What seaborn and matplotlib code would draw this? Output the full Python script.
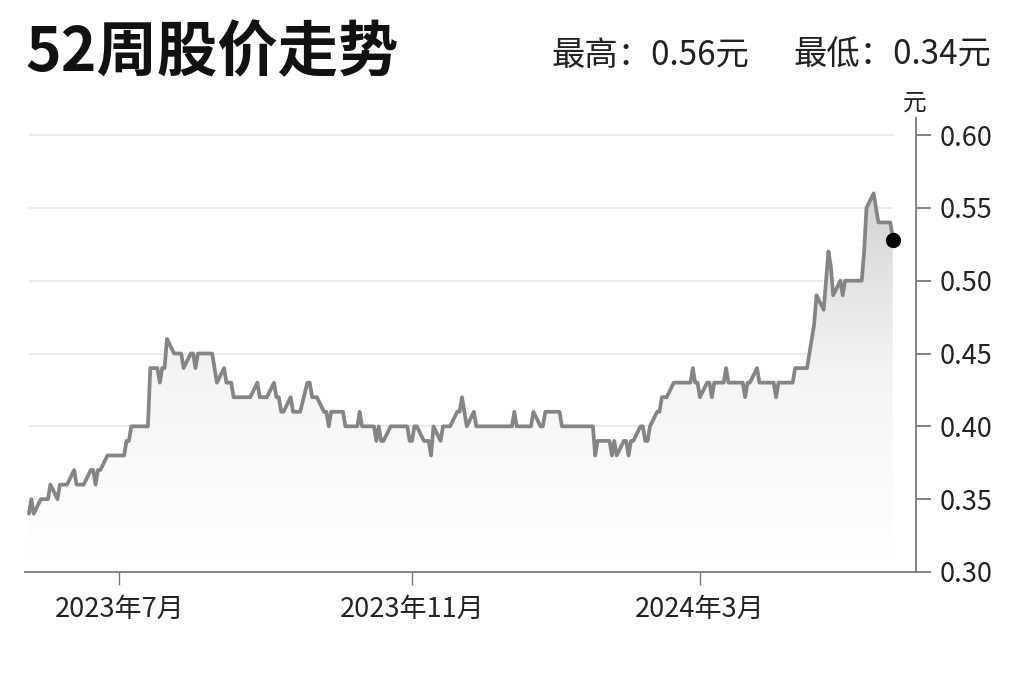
import numpy as np
import pandas as pd
import matplotlib
matplotlib.use("Agg")
import matplotlib.pyplot as plt
import matplotlib.dates as mdates
from matplotlib.colors import LinearSegmentedColormap
import seaborn as sns

# 每日收盘价（元），最后一个交易日为 2024-05-21
close = [
    0.34, 0.35, 0.34, 0.35, 0.35, 0.35, 0.35, 0.36, 0.35, 0.36,
    0.36, 0.36, 0.36, 0.37, 0.36, 0.36, 0.36, 0.36, 0.37, 0.37,
    0.36, 0.37, 0.37, 0.38, 0.38, 0.38, 0.38, 0.38, 0.38, 0.39,
    0.39, 0.40, 0.40, 0.40, 0.40, 0.40, 0.40, 0.44, 0.44, 0.43,
    0.44, 0.44, 0.46, 0.45, 0.45, 0.45, 0.45, 0.44, 0.45, 0.45,
    0.44, 0.45, 0.45, 0.45, 0.45, 0.45, 0.44, 0.43, 0.44, 0.43,
    0.43, 0.43, 0.42, 0.42, 0.42, 0.42, 0.42, 0.42, 0.43, 0.42,
    0.42, 0.42, 0.42, 0.43, 0.42, 0.42, 0.41, 0.41, 0.42, 0.41,
    0.41, 0.41, 0.41, 0.43, 0.43, 0.42, 0.42, 0.42, 0.41, 0.41,
    0.40, 0.41, 0.41, 0.41, 0.41, 0.40, 0.40, 0.40, 0.40, 0.41,
    0.40, 0.40, 0.40, 0.40, 0.39, 0.40, 0.39, 0.39, 0.40, 0.40,
    0.40, 0.40, 0.40, 0.40, 0.39, 0.39, 0.40, 0.40, 0.39, 0.39,
    0.39, 0.38, 0.40, 0.39, 0.40, 0.40, 0.40, 0.40, 0.41, 0.41,
    0.42, 0.41, 0.40, 0.41, 0.40, 0.40, 0.40, 0.40, 0.40, 0.40,
    0.40, 0.40, 0.40, 0.40, 0.40, 0.40, 0.41, 0.40, 0.40, 0.40,
    0.40, 0.40, 0.41, 0.40, 0.40, 0.41, 0.41, 0.41, 0.41, 0.41,
    0.40, 0.40, 0.40, 0.40, 0.40, 0.40, 0.40, 0.40, 0.40, 0.40,
    0.38, 0.39, 0.39, 0.39, 0.39, 0.38, 0.39, 0.38, 0.39, 0.39,
    0.38, 0.39, 0.39, 0.40, 0.40, 0.39, 0.39, 0.40, 0.41, 0.41,
    0.42, 0.42, 0.42, 0.43, 0.43, 0.43, 0.43, 0.43, 0.43, 0.44,
    0.43, 0.43, 0.42, 0.43, 0.43, 0.42, 0.43, 0.43, 0.43, 0.44,
    0.43, 0.43, 0.43, 0.43, 0.43, 0.42, 0.43, 0.43, 0.44, 0.43,
    0.43, 0.43, 0.43, 0.43, 0.42, 0.43, 0.43, 0.43, 0.43, 0.43,
    0.44, 0.44, 0.44, 0.44, 0.45, 0.46, 0.47, 0.49, 0.48, 0.50,
    0.52, 0.51, 0.49, 0.50, 0.49, 0.50, 0.50, 0.50, 0.50, 0.50,
    0.50, 0.52, 0.55, 0.56, 0.55, 0.54, 0.54, 0.54, 0.54, 0.53,
]
last_day = "2024-05-21"

y_ticks = [0.30, 0.35, 0.40, 0.45, 0.50, 0.55, 0.60]
x_tick_dates = ["2023-07-01", "2023-11-01", "2024-03-01"]
x_tick_labels = ["2023年7月", "2023年11月", "2024年3月"]

title = "52周股价走势"
high_text = "最高：0.56元"
low_text = "最低：0.34元"
unit = "元"

dates = pd.bdate_range(end=last_day, periods=len(close))
df = pd.DataFrame({"date": dates, "close": close})

sns.set_theme(style="white")
plt.rcParams["font.family"] = ["Noto Sans CJK SC", "DejaVu Sans"]
plt.rcParams["axes.unicode_minus"] = False

fig = plt.figure(figsize=(10.24, 6.82), dpi=100)
fig.patch.set_facecolor("white")
ax = fig.add_axes([0.0244, 0.1613, 0.870, 0.6657])

ymin, ymax = 0.30, 0.6117

# gridlines only across the data span
ax.hlines(y_ticks[1:], dates[0], dates[-1], color="#e9e9e9", lw=1.3, zorder=0)

# gradient fill under the line
poly = ax.fill_between(df["date"], df["close"], ymin, facecolor="none", edgecolor="none")
cmap = LinearSegmentedColormap.from_list("fade", ["#ffffff", "#f4f4f4", "#d2d2d2"])
grad = np.linspace(0, 1, 256).reshape(-1, 1)
x0 = mdates.date2num(dates[0])
x1 = mdates.date2num(dates[-1])
img = ax.imshow(grad, extent=[x0, x1, 0.31, 0.565], origin="lower", aspect="auto",
                cmap=cmap, zorder=1, interpolation="bicubic")
img.set_clip_path(poly.get_paths()[0], ax.transData)

sns.lineplot(data=df, x="date", y="close", ax=ax, color="#858585", lw=2.7, zorder=3)
ax.plot(dates[-1], 0.528, "o", color="black", markersize=10, zorder=4)

ax.set_xlim(pd.Timestamp("2023-05-22 08:00"), pd.Timestamp("2024-05-30 18:00"))
ax.set_ylim(ymin, ymax)

ax.yaxis.tick_right()
ax.set_yticks(y_ticks)
ax.set_yticklabels([f"{v:.2f}" for v in y_ticks])
ax.set_xticks(pd.to_datetime(x_tick_dates))
ax.set_xticklabels(x_tick_labels)
ax.set_xlabel("")
ax.set_ylabel("")

for side in ["left", "top"]:
    ax.spines[side].set_visible(False)
for side in ["right", "bottom"]:
    ax.spines[side].set_color("#7a7a7a")
    ax.spines[side].set_linewidth(1.3)

ax.tick_params(axis="y", which="major", right=True, left=False, length=11, width=1.3,
               color="#7a7a7a", pad=6, labelsize=19.5, labelcolor="#222222")
ax.tick_params(axis="x", which="major", bottom=True, length=9, width=1.0,
               color="#7a7a7a", pad=8, labelsize=19.5, labelcolor="#222222")

fig.text(0.0244, 0.895, title, fontsize=43.5, fontweight="bold", color="#111111",
         ha="left", va="baseline")
fig.text(0.539, 0.905, high_text, fontsize=24, color="#222222", ha="left", va="baseline")
fig.text(0.7744, 0.905, low_text, fontsize=24, color="#222222", ha="left", va="baseline")
fig.text(0.8936, 0.849, unit, fontsize=17, color="#222222", ha="center", va="center")

fig.savefig("out.png", dpi=100, facecolor="white")
